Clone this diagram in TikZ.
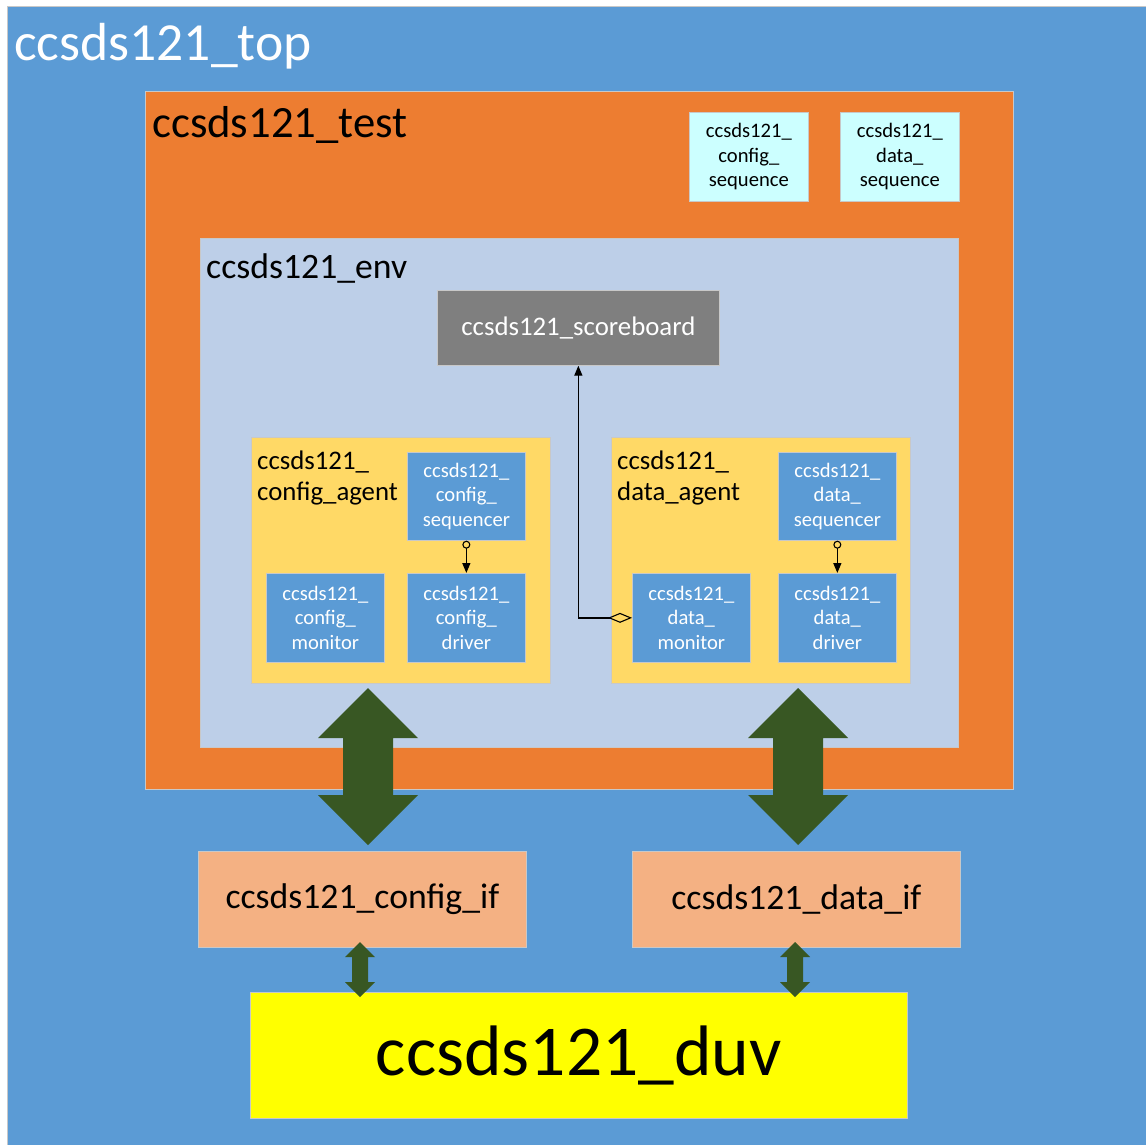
\documentclass[tikz,border=0pt]{standalone}
\usepackage{fontspec}
\setmainfont{Carlito}
\usetikzlibrary{arrows.meta,calc}
\definecolor{topblue}{RGB}{91,155,213}
\definecolor{testorange}{RGB}{237,125,49}
\definecolor{seqcyan}{RGB}{204,255,255}
\definecolor{envblue}{RGB}{189,207,232}
\definecolor{agentyellow}{RGB}{255,217,102}
\definecolor{sbgray}{RGB}{127,127,127}
\definecolor{ifsalmon}{RGB}{244,177,131}
\definecolor{duvyellow}{RGB}{255,255,0}
\definecolor{arrowgreen}{RGB}{56,87,35}
\definecolor{edgegray}{RGB}{200,200,200}
\newcommand\fs[2]{\fontsize{#1}{#2}\selectfont}
\tikzset{
  box/.style={rectangle, anchor=north west, inner sep=0pt, draw=edgegray, line width=0.7pt},
  smallbox/.style={box, fill=topblue, text=white, align=center, font=\fs{20.6}{24.5}},
  seqbox/.style={box, fill=seqcyan, text=black, align=center, font=\fs{20.6}{24.5}},
  title/.style={anchor=base west, inner sep=0pt},
  conn/.style={line width=1.4pt, black},
}
\newcommand\fatarrow[5]{% start, end, head half width, shaft half width, head length
  \fill[arrowgreen] let \p1=(#1), \p2=(#2) in
    (\x1,\y1) -- (\x1+#3,\y1-#5) -- (\x1+#4,\y1-#5) -- (\x1+#4,\y2+#5) -- (\x1+#3,\y2+#5)
    -- (\x2,\y2) -- (\x1-#3,\y2+#5) -- (\x1-#4,\y2+#5) -- (\x1-#4,\y1-#5) -- (\x1-#3,\y1-#5) -- cycle;}
\begin{document}
\begin{tikzpicture}[x=1pt,y=-1pt]
\useasboundingbox (0,0) rectangle (1146,1145);
\fill[white] (0,0) rectangle (1146,1145);
% containers
\node[box, fill=topblue, minimum width=1139pt, minimum height=1139pt] (top) at (7,6) {};
\node[title, text=white, font=\fs{53.6}{60}] (toplbl) at (14,61) {ccsds121\_top};
\node[box, fill=testorange, minimum width=868pt, minimum height=698pt] (test) at (145,91) {};
\node[title, text=black, font=\fs{44.7}{50}] (testlbl) at (152,138) {ccsds121\_test};
\node[seqbox, minimum width=119pt, minimum height=89pt] (cfgseq) at (689,112) {ccsds121\_\\config\_\\sequence};
\node[seqbox, minimum width=119pt, minimum height=89pt] (dataseq) at (840,112) {ccsds121\_\\data\_\\sequence};
\node[box, fill=envblue, minimum width=758pt, minimum height=509pt] (env) at (200,238) {};
\node[title, text=black, font=\fs{35.7}{40}] (envlbl) at (206,278) {ccsds121\_env};
\node[box, fill=sbgray, text=white, font=\fs{26.8}{30}, minimum width=282pt, minimum height=75pt] (score) at (437,290) {ccsds121\_scoreboard};
% config agent
\node[box, fill=agentyellow, minimum width=299pt, minimum height=246pt] (cagent) at (251,437) {};
\node[anchor=north west, inner sep=0pt, align=left, font=\fs{26.8}{31}] (cagentlbl) at (257,451) {ccsds121\_\\config\_agent};
\node[smallbox, minimum width=118pt, minimum height=88pt] (cseqr) at (407,452) {ccsds121\_\\config\_\\sequencer};
\node[smallbox, minimum width=118pt, minimum height=89pt] (cmon) at (266,573) {ccsds121\_\\config\_\\monitor};
\node[smallbox, minimum width=118pt, minimum height=89pt] (cdrv) at (407,573) {ccsds121\_\\config\_\\driver};
% data agent
\node[box, fill=agentyellow, minimum width=299pt, minimum height=246pt] (dagent) at (611,437) {};
\node[anchor=north west, inner sep=0pt, align=left, font=\fs{26.8}{31}] (dagentlbl) at (617,451) {ccsds121\_\\data\_agent};
\node[smallbox, minimum width=118pt, minimum height=88pt] (dseqr) at (778,452) {ccsds121\_\\data\_\\sequencer};
\node[smallbox, minimum width=118pt, minimum height=89pt] (dmon) at (632,573) {ccsds121\_\\data\_\\monitor};
\node[smallbox, minimum width=118pt, minimum height=89pt] (ddrv) at (778,573) {ccsds121\_\\data\_\\driver};
% interfaces and duv
\node[box, fill=ifsalmon, font=\fs{35.7}{40}, minimum width=328pt, minimum height=96pt] (cif) at (198,851) {ccsds121\_config\_if};
\node[box, fill=ifsalmon, font=\fs{35.7}{40}, minimum width=328pt, minimum height=96pt] (dif) at (632,851) {ccsds121\_data\_if};
\node[box, fill=duvyellow, font=\fs{71.5}{80}, minimum width=657pt, minimum height=126pt] (duv) at (250,992) {ccsds121\_duv};
% connectors inside agents
\draw[conn, {Circle[open,length=8pt,line width=1.1pt]}-{Triangle[length=10pt,width=8pt]}] (cseqr.south) -- (cdrv.north);
\draw[conn, {Circle[open,length=8pt,line width=1.1pt]}-{Triangle[length=10pt,width=8pt]}] (dseqr.south) -- (ddrv.north);
\draw[conn, {Diamond[open,length=24pt,width=10pt,line width=1.1pt]}-{Triangle[length=10pt,width=8pt]}] (dmon.west) -| (score.south);
% fat double arrows
\coordinate (ca1) at (368,688);
\coordinate (ca2) at (368,845);
\coordinate (da1) at (798,688);
\coordinate (da2) at (798,845);
\fatarrow{ca1}{ca2}{50pt}{25pt}{50pt}
\fatarrow{da1}{da2}{50pt}{25pt}{50pt}
\coordinate (cb1) at (360,942);
\coordinate (cb2) at (360,997);
\coordinate (db1) at (795,942);
\coordinate (db2) at (795,997);
\fatarrow{cb1}{cb2}{15pt}{8pt}{15pt}
\fatarrow{db1}{db2}{15pt}{8pt}{15pt}
\end{tikzpicture}
\end{document}
